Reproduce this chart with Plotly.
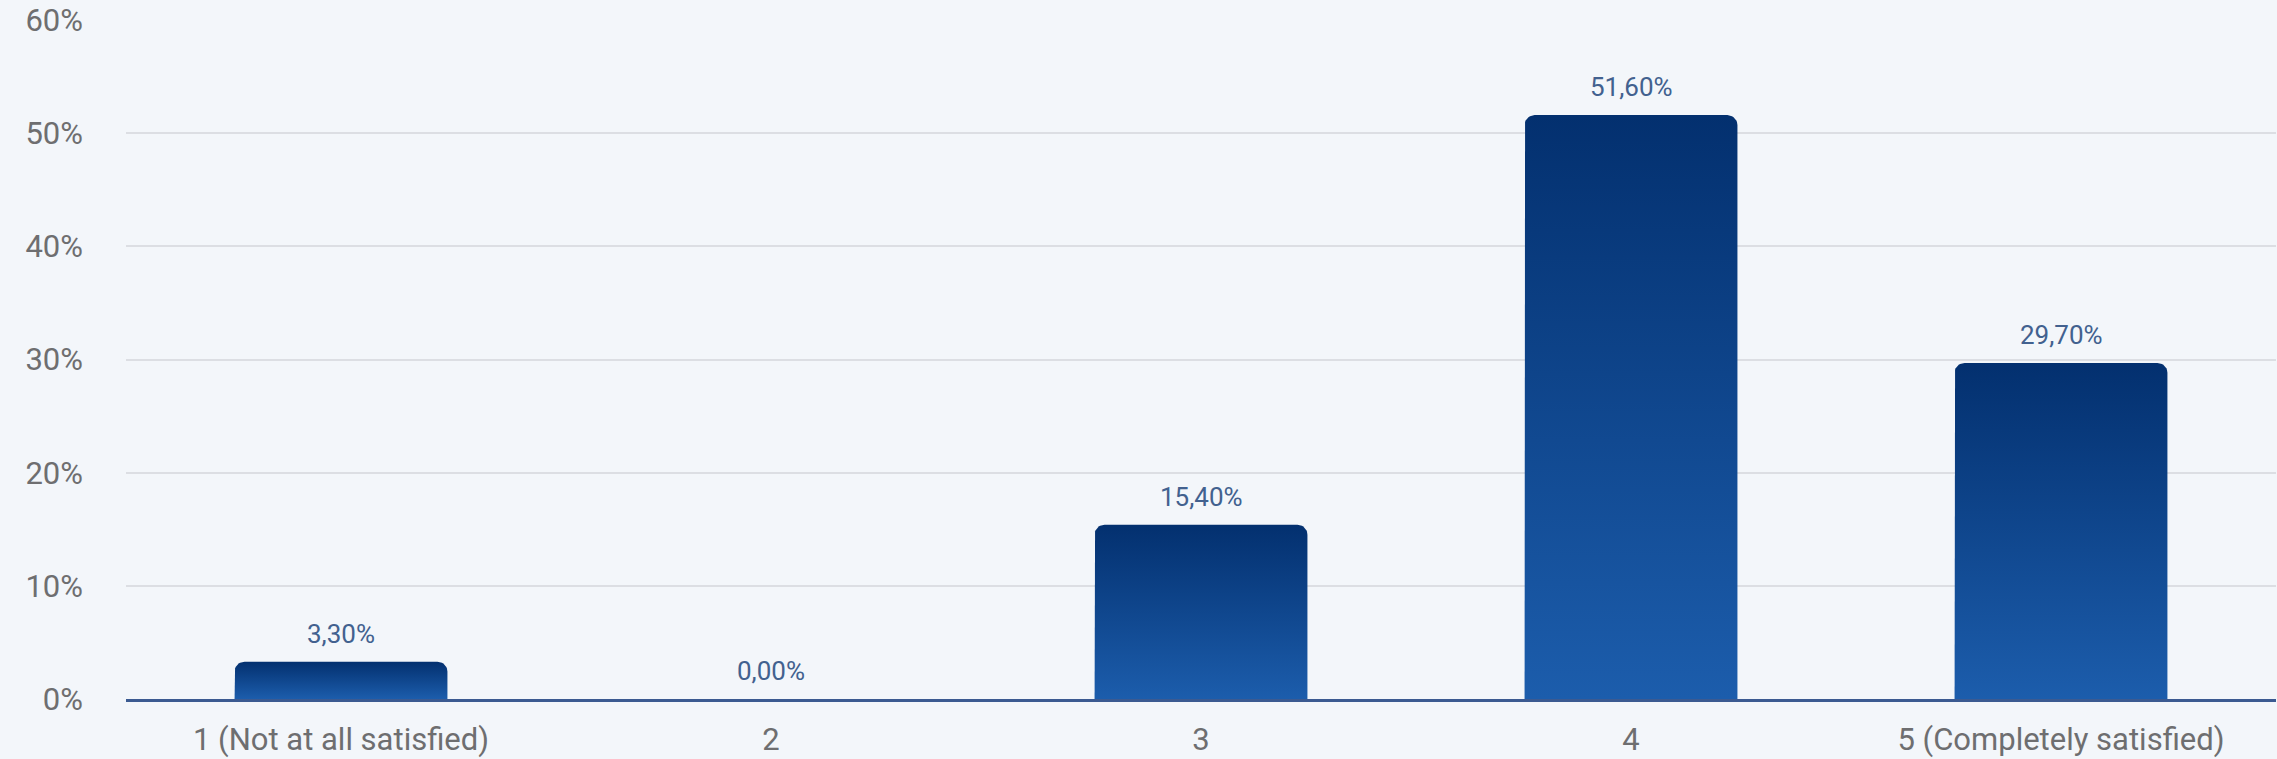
import math
import plotly.graph_objects as go

# Survey results: share of respondents per satisfaction level (%)
categories = ["1 (Not at all satisfied)", "2", "3", "4", "5 (Completely satisfied)"]
shares = [3.3, 0.0, 15.4, 51.6, 29.7]
y_ticks = [0, 10, 20, 30, 40, 50, 60]
y_tick_labels = [f"{t}%" for t in y_ticks]

W, H = 2277, 759
MARGIN = dict(l=126, r=1, t=20, b=57)
Y_MAX = 60
BAR_W = 0.495
RADIUS_PX = 10

BAR_TOP = "#03306f"
BAR_BOTTOM = "#1c5dac"
LABEL_BLUE = "#42618f"
TICK_GREY = "#6e6e70"
FONT = "Roboto"

# convert the corner radius from pixels to data units on each axis
px_per_x = (W - MARGIN["l"] - MARGIN["r"]) / len(categories)
px_per_y = (H - MARGIN["t"] - MARGIN["b"]) / Y_MAX
rx = RADIUS_PX / px_per_x
ry = RADIUS_PX / px_per_y


def rounded_bar(i, v, n=10):
    """Outline of a bar centred on category i, height v, rounded top corners."""
    x0, x1 = i - BAR_W / 2, i + BAR_W / 2
    r_y = min(ry, v)
    xs, ys = [x0, x0], [0, v - r_y]
    for k in range(n + 1):
        a = math.pi - (math.pi / 2) * k / n
        xs.append(x0 + rx + rx * math.cos(a))
        ys.append(v - r_y + r_y * math.sin(a))
    for k in range(n + 1):
        a = math.pi / 2 - (math.pi / 2) * k / n
        xs.append(x1 - rx + rx * math.cos(a))
        ys.append(v - r_y + r_y * math.sin(a))
    xs += [x1, x0]
    ys += [0, 0]
    return xs, ys


fig = go.Figure()

for i, v in enumerate(shares):
    if v <= 0:
        continue
    xs, ys = rounded_bar(i, v)
    fig.add_trace(go.Scatter(
        x=xs, y=ys,
        mode="lines",
        fill="toself",
        line=dict(width=0, color="rgba(0,0,0,0)"),
        fillgradient=dict(type="vertical",
                          colorscale=[[0, BAR_BOTTOM], [1, BAR_TOP]]),
        hoverinfo="skip",
        showlegend=False,
    ))

for i, v in enumerate(shares):
    fig.add_annotation(
        x=i, y=v,
        text=f"{v:.2f}".replace(".", ",") + "%",
        showarrow=False,
        yanchor="bottom",
        yshift=11,
        font=dict(family=FONT, size=26, color=LABEL_BLUE),
    )

fig.update_layout(
    width=W, height=H,
    margin=MARGIN,
    paper_bgcolor="#f3f6fa",
    plot_bgcolor="rgba(0,0,0,0)",
    font=dict(family=FONT),
    showlegend=False,
    xaxis=dict(
        range=[-0.5, len(categories) - 0.5],
        tickmode="array",
        tickvals=list(range(len(categories))),
        ticktext=categories,
        showgrid=False,
        zeroline=False,
        showline=True,
        linecolor="#3b5a91",
        linewidth=2.5,
        ticks="",
        ticklabelstandoff=11,
        tickfont=dict(family=FONT, size=31, color=TICK_GREY),
        fixedrange=True,
    ),
    yaxis=dict(
        range=[0, Y_MAX],
        tickmode="array",
        tickvals=y_ticks,
        ticktext=y_tick_labels,
        showgrid=True,
        gridcolor="#dcdee3",
        gridwidth=2,
        zeroline=False,
        showline=False,
        ticks="",
        ticklabelstandoff=42,
        tickfont=dict(family=FONT, size=31, color=TICK_GREY),
        fixedrange=True,
    ),
)

fig.write_html("out.html")
